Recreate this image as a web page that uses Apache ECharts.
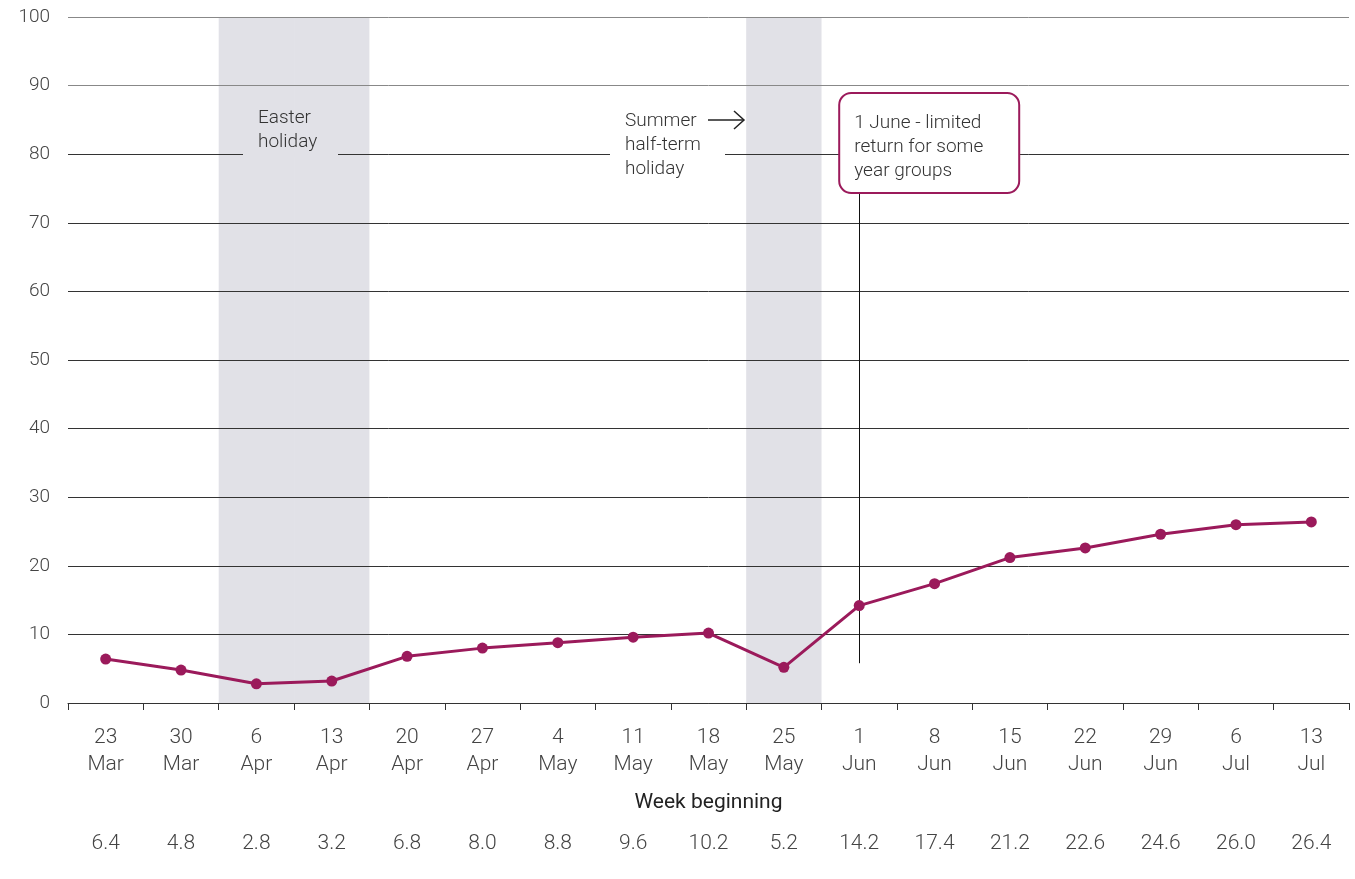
<!DOCTYPE html>
<html>
<head>
<meta charset="utf-8">
<script src="https://cdn.jsdelivr.net/npm/echarts@6/dist/echarts.min.js"></script>
<style>
  html, body { margin: 0; padding: 0; background: #fff; }
  #main { width: 1355px; height: 879px; }
</style>
</head>
<body>
<div id="main"></div>
<script>
// week beginning labels and the percentage for each week
let weeks = ['23\nMar', '30\nMar', '6\nApr', '13\nApr', '20\nApr', '27\nApr', '4\nMay', '11\nMay', '18\nMay',
    '25\nMay', '1\nJun', '8\nJun', '15\nJun', '22\nJun', '29\nJun', '6\nJul', '13\nJul'];
let values = [6.4, 4.8, 2.8, 3.2, 6.8, 8.0, 8.8, 9.6, 10.2, 5.2, 14.2, 17.4, 21.2, 22.6, 24.6, 26.0, 26.4];
// school holiday weeks (shaded)
let holidayWeeks = ['6\nApr', '13\nApr', '25\nMay'];

let plum = '#9b1a5b';
let shade = '#e1e1e7';
let font = 'Roboto, Liberation Sans, Arial, sans-serif';

let myChart = echarts.init(document.getElementById('main'));
let option = {
    animation: false,
    grid: {left: 68, right: 6, top: 17, bottom: 176},
    xAxis: [
        {
            type: 'category',
            data: weeks,
            boundaryGap: true,
            name: 'Week beginning',
            nameLocation: 'middle',
            nameGap: 89,
            nameTextStyle: {color: '#222', fontSize: 21, fontFamily: font, fontWeight: 400},
            axisLine: {lineStyle: {color: '#333', width: 1}},
            axisTick: {show: true, length: 7, lineStyle: {color: '#333'}},
            axisLabel: {color: '#444', fontSize: 21, lineHeight: 27, margin: 21, fontFamily: font, fontWeight: 300, interval: 0},
            splitLine: {show: false}
        },
        {
            type: 'category',
            data: values.map(function (v) { return v.toFixed(1); }),
            position: 'bottom',
            axisLine: {show: false},
            axisTick: {show: false},
            axisLabel: {color: '#444', fontSize: 21, margin: 130, fontFamily: font, fontWeight: 300, interval: 0},
            splitLine: {show: false}
        }
    ],
    yAxis: {
        type: 'value',
        min: 0,
        max: 100,
        interval: 10,
        axisLine: {show: false},
        axisTick: {show: false},
        axisLabel: {color: '#444', fontSize: 19, margin: 18, fontFamily: font, fontWeight: 300},
        splitLine: {
            lineStyle: {
                width: 1,
                color: ['#333', '#333', '#333', '#333', '#333', '#333', '#333', '#333', '#333', '#888', '#888']
            }
        }
    },
    series: [
        {
            name: 'holidays',
            type: 'bar',
            data: weeks.map(function (w) { return holidayWeeks.indexOf(w) >= 0 ? 100 : '-'; }),
            barWidth: '100%',
            barGap: '-100%',
            itemStyle: {color: shade},
            silent: true,
            z: -1
        },
        {
            name: 'pct',
            type: 'line',
            data: values,
            symbol: 'circle',
            symbolSize: 11,
            lineStyle: {color: plum, width: 3},
            itemStyle: {color: plum},
            z: 5,
            markLine: {
                silent: true,
                symbol: 'none',
                label: {show: false},
                lineStyle: {color: '#111', width: 1, type: 'solid'},
                data: [[{coord: ['1\nJun', 5.8]}, {coord: ['1\nJun', 74.3]}]]
            }
        }
    ]
};
myChart.setOption(option);

// annotations placed against the axes
let p = function (cat, v) { return myChart.convertToPixel({xAxisIndex: 0, yAxisIndex: 0}, [cat, v]); };
let junX = p('1\nJun', 0)[0];
let y80 = p('1\nJun', 80)[1];
let txt = {fontSize: 19, fontFamily: font, fontWeight: 300, fill: '#333', lineHeight: 24};

myChart.setOption({
    graphic: [
        // Easter label, breaking the 80 line
        {type: 'rect', shape: {x: 243, y: y80 - 3, width: 95, height: 6}, style: {fill: shade}, z: 10, silent: true},
        {type: 'text', x: 258, y: 106, z: 11, style: Object.assign({text: 'Easter\nholiday'}, txt)},
        // Summer half-term label
        {type: 'rect', shape: {x: 610, y: y80 - 3, width: 115, height: 6}, style: {fill: '#fff'}, z: 10, silent: true},
        {type: 'text', x: 625, y: 109, z: 11, style: Object.assign({text: 'Summer\nhalf-term\nholiday'}, txt)},
        {type: 'line', shape: {x1: 708, y1: 120, x2: 744, y2: 120}, style: {stroke: '#222', lineWidth: 1.5}, z: 11},
        {type: 'polyline', shape: {points: [[734, 111], [744, 120], [734, 129]]}, style: {stroke: '#222', lineWidth: 1.5, fill: null}, z: 11},
        // 1 June box
        {
            type: 'rect', shape: {x: junX - 20, y: 93, width: 180, height: 100, r: 12},
            style: {fill: '#fff', stroke: plum, lineWidth: 2}, z: 12
        },
        {type: 'text', x: junX - 5, y: 111, z: 13, style: Object.assign({text: '1 June - limited\nreturn for some\nyear groups'}, txt)}
    ]
});
</script>
</body>
</html>
